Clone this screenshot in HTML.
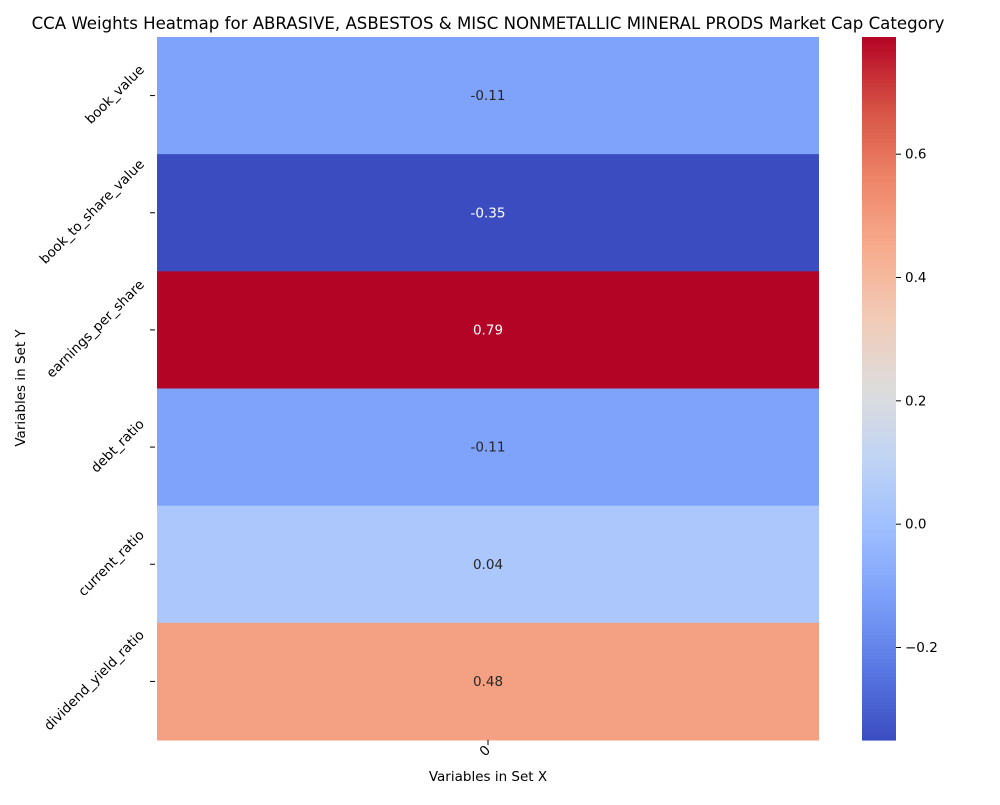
<!DOCTYPE html>
<html><head><meta charset="utf-8"><style>
body{margin:0;background:#fff;}
svg text{font-family:"DejaVu Sans","Liberation Sans",sans-serif;}
</style></head><body>
<svg id="chart" width="1000" height="800" xmlns="http://www.w3.org/2000/svg">
<text x="488" y="29" text-anchor="middle" font-size="16.6" fill="#000">CCA Weights Heatmap for ABRASIVE, ASBESTOS &amp; MISC NONMETALLIC MINERAL PRODS Market Cap Category</text>
<g id="cells"></g>
<g id="ylabels"></g>
<g id="cbar"></g>
<text transform="translate(25,388) rotate(-90)" text-anchor="middle" font-size="13.5">Variables in Set Y</text>
<text x="488" y="781" text-anchor="middle" font-size="13.5">Variables in Set X</text>
</svg>
<script>
const rowLabels=["book_value","book_to_share_value","earnings_per_share","debt_ratio","current_ratio","dividend_yield_ratio"];
const colLabels=["0"];
const weights=[-0.11,-0.35,0.79,-0.11,0.04,0.48];
const cbTicks=[-0.2,0.0,0.2,0.4,0.6];
const cbTickLabels=["\u22120.2","0.0","0.2","0.4","0.6"];
const vmin=-0.35, vmax=0.79;
const cw=["#3b4cc0","#5977e3","#7b9ff9","#9ebeff","#c0d4f5","#dddcdc","#f2cbb7","#f7ac8e","#ee8468","#d65244","#b40426"];
function hex(h){return [1,3,5].map(i=>parseInt(h.substr(i,2),16));}
function cmap(t){t=Math.max(0,Math.min(1,t));const p=t*10,i=Math.min(9,Math.floor(p)),f=p-i;const a=hex(cw[i]),b=hex(cw[i+1]);return a.map((v,k)=>Math.round(v+(b[k]-v)*f));}
const X0=157,X1=819,Y0=37,Y1=740;
const rowH=(Y1-Y0)/rowLabels.length, colW=(X1-X0)/colLabels.length;
const yPos=i=>Y0+i*rowH, xPos=j=>X0+j*colW;
const ns="http://www.w3.org/2000/svg";
function mk(t,a,p){const e=document.createElementNS(ns,t);for(const k in a)e.setAttribute(k,a[k]);p.appendChild(e);return e;}
const cells=document.getElementById('cells'),yl=document.getElementById('ylabels'),cb=document.getElementById('cbar');
weights.forEach((v,i)=>{
 const c=cmap((v-vmin)/(vmax-vmin));
 const r=mk('rect',{x:xPos(0),y:yPos(i),width:colW,height:rowH+0.5,fill:`rgb(${c})`},cells);
 
 
 const lum=(0.2126*c[0]+0.7152*c[1]+0.0722*c[2])/255;
 const t=mk('text',{x:xPos(0)+colW/2,y:yPos(i)+rowH/2+4.5,'text-anchor':'middle','font-size':13.5,fill:lum>0.45?'#262626':'#fff'},cells);
 t.textContent=v.toFixed(2);
 
 
 const yc=yPos(i)+rowH/2;
 const tk=mk('line',{x1:150,x2:155,y1:yc,y2:yc,stroke:'#000','stroke-width':1},yl);
 
 
 const lb=mk('text',{'text-anchor':'end','font-size':13.5},yl);
 lb.textContent=rowLabels[i];
 
 
 const L=lb.getComputedTextLength();
 lb.setAttribute('transform',`translate(145,${yc-L*0.3536+2}) rotate(-45)`);
});
colLabels.forEach((l,j)=>{
 const xc=xPos(j)+colW/2;
 const tk=mk('line',{x1:xc,x2:xc,y1:740,y2:745,stroke:'#000'},yl);
 
 
 const lb=mk('text',{transform:`translate(${xc},${754}) rotate(-45)`,'text-anchor':'middle','font-size':13.5},yl);
 lb.textContent=l;
 
 
});
const CX0=862,CX1=896;
const cbY=v=>Y1-(v-vmin)/(vmax-vmin)*(Y1-Y0);
for(let k=0;k<200;k++){const c=cmap(k/200+0.0025);
 const r=mk('rect',{x:CX0,y:Y1-(k+1)*(Y1-Y0)/200,width:CX1-CX0,height:(Y1-Y0)/200+0.6,fill:`rgb(${c})`},cb);
 
 }
cbTicks.forEach((v,i)=>{const y=cbY(v);
 const tk=mk('line',{x1:CX1,x2:CX1+5,y1:y,y2:y,stroke:'#000'},cb);
 
 
 const t=mk('text',{x:CX1+9,y:y+4.5,'font-size':13.5},cb);
 t.textContent=cbTickLabels[i];
 
 });
</script>
</body></html>
